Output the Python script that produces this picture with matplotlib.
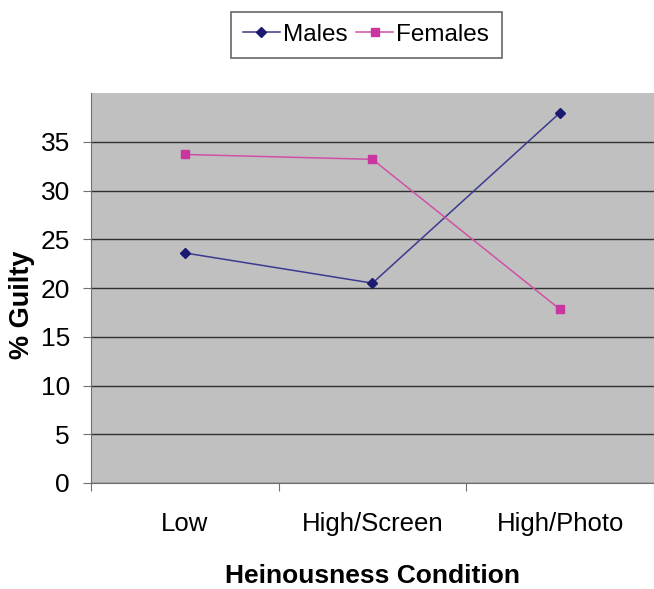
import matplotlib
matplotlib.use('Agg')
import matplotlib.pyplot as plt

# data
conditions = ['Low', 'High/Screen', 'High/Photo']
males = [23.6, 20.5, 38.0]
females = [33.7, 33.2, 17.8]
y_ticks = [0, 5, 10, 15, 20, 25, 30, 35]

plt.rcParams['font.family'] = ['Liberation Sans', 'DejaVu Sans']

fig = plt.figure(figsize=(6.54, 5.89), dpi=100)
ax = fig.add_axes([0.139, 0.180, 0.861, 0.662])
ax.set_facecolor('#C0C0C0')

x = list(range(len(conditions)))
ax.plot(x, males, color='#3A3A90', lw=1.1, marker='D', ms=5,
        mfc='#1A1A70', mec='#1A1A70', label='Males')
ax.plot(x, females, color='#D050A8', lw=1.1, marker='s', ms=6,
        mfc='#C8369E', mec='#C8369E', label='Females')

ax.set_xlim(-0.5, 2.5)
ax.set_ylim(0, 40)
ax.set_yticks(y_ticks)
ax.set_yticklabels([str(v) for v in y_ticks], fontsize=19)
ax.yaxis.grid(True, color='#303030', lw=1)
ax.set_axisbelow(True)

# category boundary ticks, labels at centers
ax.set_xticks([-0.5, 0.5, 1.5, 2.5])
ax.set_xticklabels([])
ax.set_xticks(x, minor=True)
ax.set_xticklabels(conditions, minor=True, fontsize=18.5)
ax.tick_params(axis='x', which='minor', length=0, pad=21)
ax.tick_params(axis='x', which='major', length=6, color='#707070')
ax.tick_params(axis='y', length=6, color='#707070', pad=9)

for s in ['top', 'right']:
    ax.spines[s].set_visible(False)
for s in ['left', 'bottom']:
    ax.spines[s].set_color('#707070')

ax.set_ylabel('% Guilty', fontsize=19.5, fontweight='bold', labelpad=4, y=0.456)
ax.set_xlabel('Heinousness Condition', fontsize=19, fontweight='bold', labelpad=20)

leg = fig.legend(loc='center', bbox_to_anchor=(0.560, 0.941), ncol=2,
                 fontsize=17.5, frameon=True, fancybox=False, handlelength=1.5,
                 handletextpad=0.15, columnspacing=0.35,
                 borderpad=0.5, borderaxespad=0)
leg.get_frame().set_edgecolor('#404040')
leg.get_frame().set_linewidth(1.2)

fig.savefig('out.png', dpi=100, facecolor='white')
